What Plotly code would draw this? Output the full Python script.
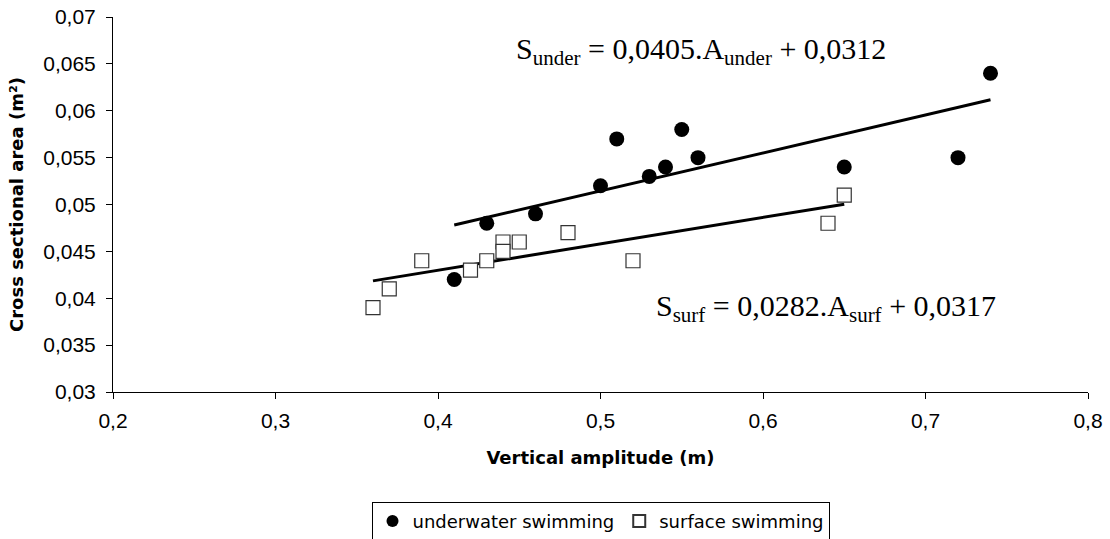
import plotly.graph_objects as go

# Data
under_x = [0.41, 0.43, 0.46, 0.50, 0.51, 0.53, 0.54, 0.55, 0.56, 0.65, 0.72, 0.74]
under_y = [0.042, 0.048, 0.049, 0.052, 0.057, 0.053, 0.054, 0.058, 0.055, 0.054, 0.055, 0.064]
surf_x = [0.36, 0.37, 0.39, 0.42, 0.43, 0.44, 0.44, 0.45, 0.48, 0.52, 0.64, 0.65]
surf_y = [0.039, 0.041, 0.044, 0.043, 0.044, 0.046, 0.045, 0.046, 0.047, 0.044, 0.048, 0.051]

# Regression coefficients (from the chart's equations)
under_slope, under_icpt = 0.0405, 0.0312
surf_slope, surf_icpt = 0.0282, 0.0317

x_ticks = [0.2, 0.3, 0.4, 0.5, 0.6, 0.7, 0.8]
x_tick_text = ["0,2", "0,3", "0,4", "0,5", "0,6", "0,7", "0,8"]
y_ticks = [0.03, 0.035, 0.04, 0.045, 0.05, 0.055, 0.06, 0.065, 0.07]
y_tick_text = ["0,03", "0,035", "0,04", "0,045", "0,05", "0,055", "0,06", "0,065", "0,07"]

ux_line = [min(under_x), max(under_x)]
uy_line = [under_slope * v + under_icpt for v in ux_line]
sx_line = [min(surf_x), max(surf_x)]
sy_line = [surf_slope * v + surf_icpt for v in sx_line]

fig = go.Figure()
fig.add_trace(go.Scatter(x=ux_line, y=uy_line, mode="lines", line=dict(color="black", width=3),
                         showlegend=False, hoverinfo="skip"))
fig.add_trace(go.Scatter(x=sx_line, y=sy_line, mode="lines", line=dict(color="black", width=3),
                         showlegend=False, hoverinfo="skip"))
fig.add_trace(go.Scatter(x=under_x, y=under_y, mode="markers", name="underwater swimming",
                         marker=dict(symbol="circle", size=15, color="black", line=dict(width=0))))
fig.add_trace(go.Scatter(x=surf_x, y=surf_y, mode="markers", name="surface swimming",
                         marker=dict(symbol="square", size=14, color="white",
                                     line=dict(width=1.2, color="#333333"))))

fig.add_annotation(x=0.4467, y=0.0664, xref="x", yref="y", xanchor="left", yanchor="middle",
                   text="S<sub>under</sub> = 0,0405.A<sub>under</sub> + 0,0312", showarrow=False,
                   font=dict(family="Liberation Serif", size=30, color="black"))
fig.add_annotation(x=0.5332, y=0.0390, xref="x", yref="y", xanchor="left", yanchor="middle",
                   text="S<sub>surf</sub> = 0,0282.A<sub>surf</sub> + 0,0317", showarrow=False,
                   font=dict(family="Liberation Serif", size=30, color="black"))

fig.update_layout(
    width=1110, height=539,
    margin=dict(l=113, r=22, t=17, b=147, autoexpand=False),
    paper_bgcolor="white", plot_bgcolor="white",
    font=dict(family="Liberation Sans", size=21, color="black"),
    showlegend=True,
    legend=dict(orientation="h", x=0.5, xanchor="center", y=-0.293, yanchor="top",
                bordercolor="black", borderwidth=1,
                font=dict(family="DejaVu Sans", size=18),
                itemsizing="constant", traceorder="normal"),
)
fig.update_xaxes(range=[0.2, 0.8], tickvals=x_ticks, ticktext=x_tick_text,
                 showgrid=False, zeroline=False, showline=True, linecolor="black", linewidth=1,
                 ticks="outside", ticklen=6, tickcolor="black",
                 ticklabelstandoff=4,
                 title=dict(text="<b>Vertical amplitude (m)</b>",
                            font=dict(family="DejaVu Sans", size=18), standoff=20))
fig.update_yaxes(range=[0.03, 0.07], tickvals=y_ticks, ticktext=y_tick_text,
                 showgrid=False, zeroline=False, showline=True, linecolor="black", linewidth=1,
                 ticks="outside", ticklen=6, tickcolor="black",
                 ticklabelstandoff=6,
                 title=dict(text="<b>Cross sectional area (m²)</b>",
                            font=dict(family="DejaVu Sans", size=18), standoff=14))

fig.write_html("out.html", config={"displayModeBar": False},
               post_script="document.body.style.margin='0';document.body.style.overflow='hidden';")
